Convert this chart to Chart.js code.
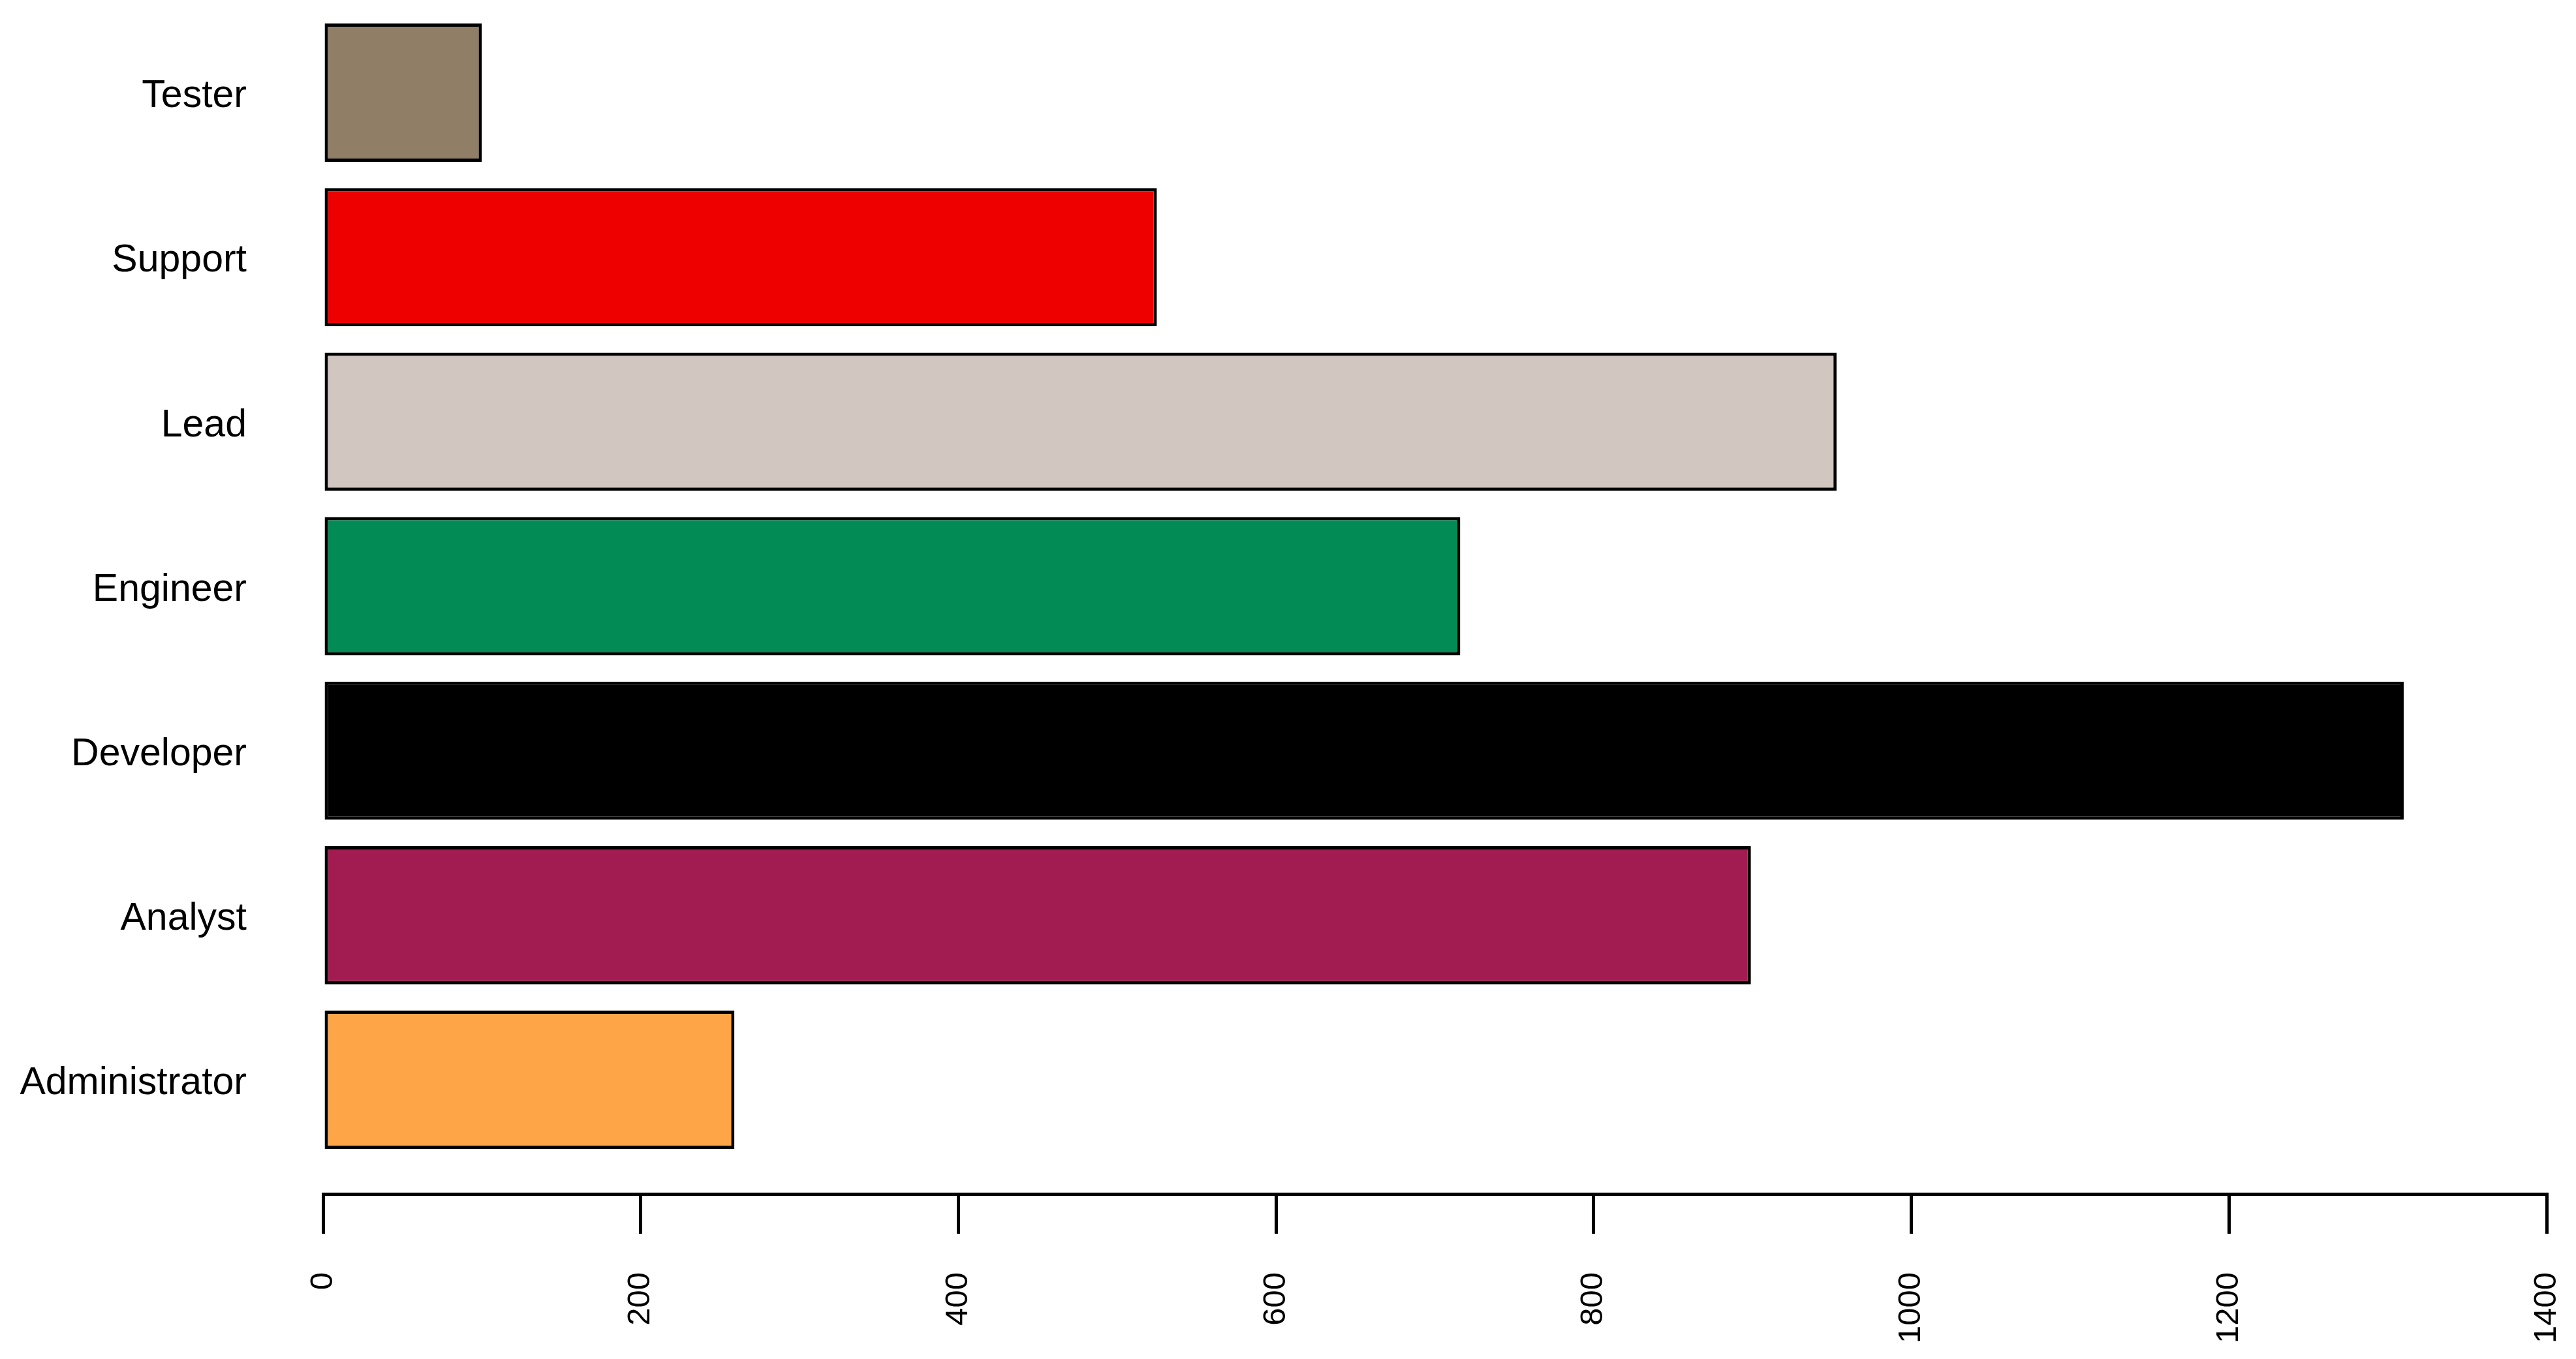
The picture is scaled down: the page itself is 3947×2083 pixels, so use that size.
<!DOCTYPE html>
<html>
<head>
<meta charset="utf-8">
<title>Roles</title>
<script src="https://cdn.jsdelivr.net/npm/chart.js@4/dist/chart.umd.min.js"></script>
<style>
    html, body { margin: 0; padding: 0; background: #ffffff; }
    canvas { display: block; }
</style>
</head>
<body>
<canvas id="roles" width="3947" height="2083"></canvas>
<script>
// bottom to top, like the picture
var roles = ['Administrator', 'Analyst', 'Developer', 'Engineer', 'Lead', 'Support', 'Tester'];
var counts = [259, 899, 1310, 716, 953, 525, 100];
var colores = ['#FEA548', '#A21C52', '#000000', '#028B55', '#D2C6C1', '#EE0000', '#907F66'];
var xTicks = [0, 200, 400, 600, 800, 1000, 1200, 1400];

var puntos = [];
for (var i = 0; i < roles.length; i++) {
    puntos.push({ x: counts[i], y: i });
}

const ctx = document.getElementById('roles').getContext('2d');
const grafico = new Chart(ctx, {
    type: 'bar',
    data: {
        datasets: [{
            label: 'roles',
            data: puntos,
            backgroundColor: colores,
            borderColor: '#000000',
            borderWidth: 5,
            borderSkipped: false,
            categoryPercentage: 1,
            barPercentage: 0.84
        }]
    },
    options: {
        indexAxis: 'y',
        responsive: false,
        animation: false,
        layout: { padding: { left: 0, right: 45, top: 0, bottom: 0 } },
        plugins: {
            legend: { display: false },
            tooltip: { enabled: false }
        },
        scales: {
            x: {
                type: 'linear',
                min: 0,
                max: 1400,
                afterBuildTicks: function (scale) {
                    scale.ticks = xTicks.map(function (v) { return { value: v }; });
                },
                afterFit: function (scale) {
                    scale.height = 253;
                    scale.paddingLeft = 0;
                    scale.paddingRight = 0;
                },
                border: { display: true, color: '#000000', width: 5 },
                grid: {
                    drawOnChartArea: false,
                    drawTicks: true,
                    tickLength: 61,
                    lineWidth: 5,
                    color: '#000000'
                },
                ticks: {
                    autoSkip: false,
                    minRotation: 90,
                    maxRotation: 90,
                    padding: 59,
                    color: '#000000',
                    font: { family: 'Liberation Sans', size: 49 },
                    callback: function (value) { return String(value); }
                }
            },
            y: {
                type: 'linear',
                offset: false,
                min: -0.694,
                max: 6.563,
                afterBuildTicks: function (scale) {
                    scale.ticks = roles.map(function (r, i) { return { value: i }; });
                },
                afterFit: function (scale) {
                    scale.width = 495;
                    scale.paddingTop = 0;
                    scale.paddingBottom = 0;
                },
                border: { display: false },
                // the gap between names and bars comes from the (hidden) tick length
                grid: { display: false, drawTicks: true, tickLength: 117 },
                ticks: {
                    padding: 0,
                    labelOffset: 6,
                    color: '#000000',
                    font: { family: 'Liberation Sans', size: 59 },
                    callback: function (value) { return roles[value]; }
                }
            }
        }
    }
});
</script>
</body>
</html>
